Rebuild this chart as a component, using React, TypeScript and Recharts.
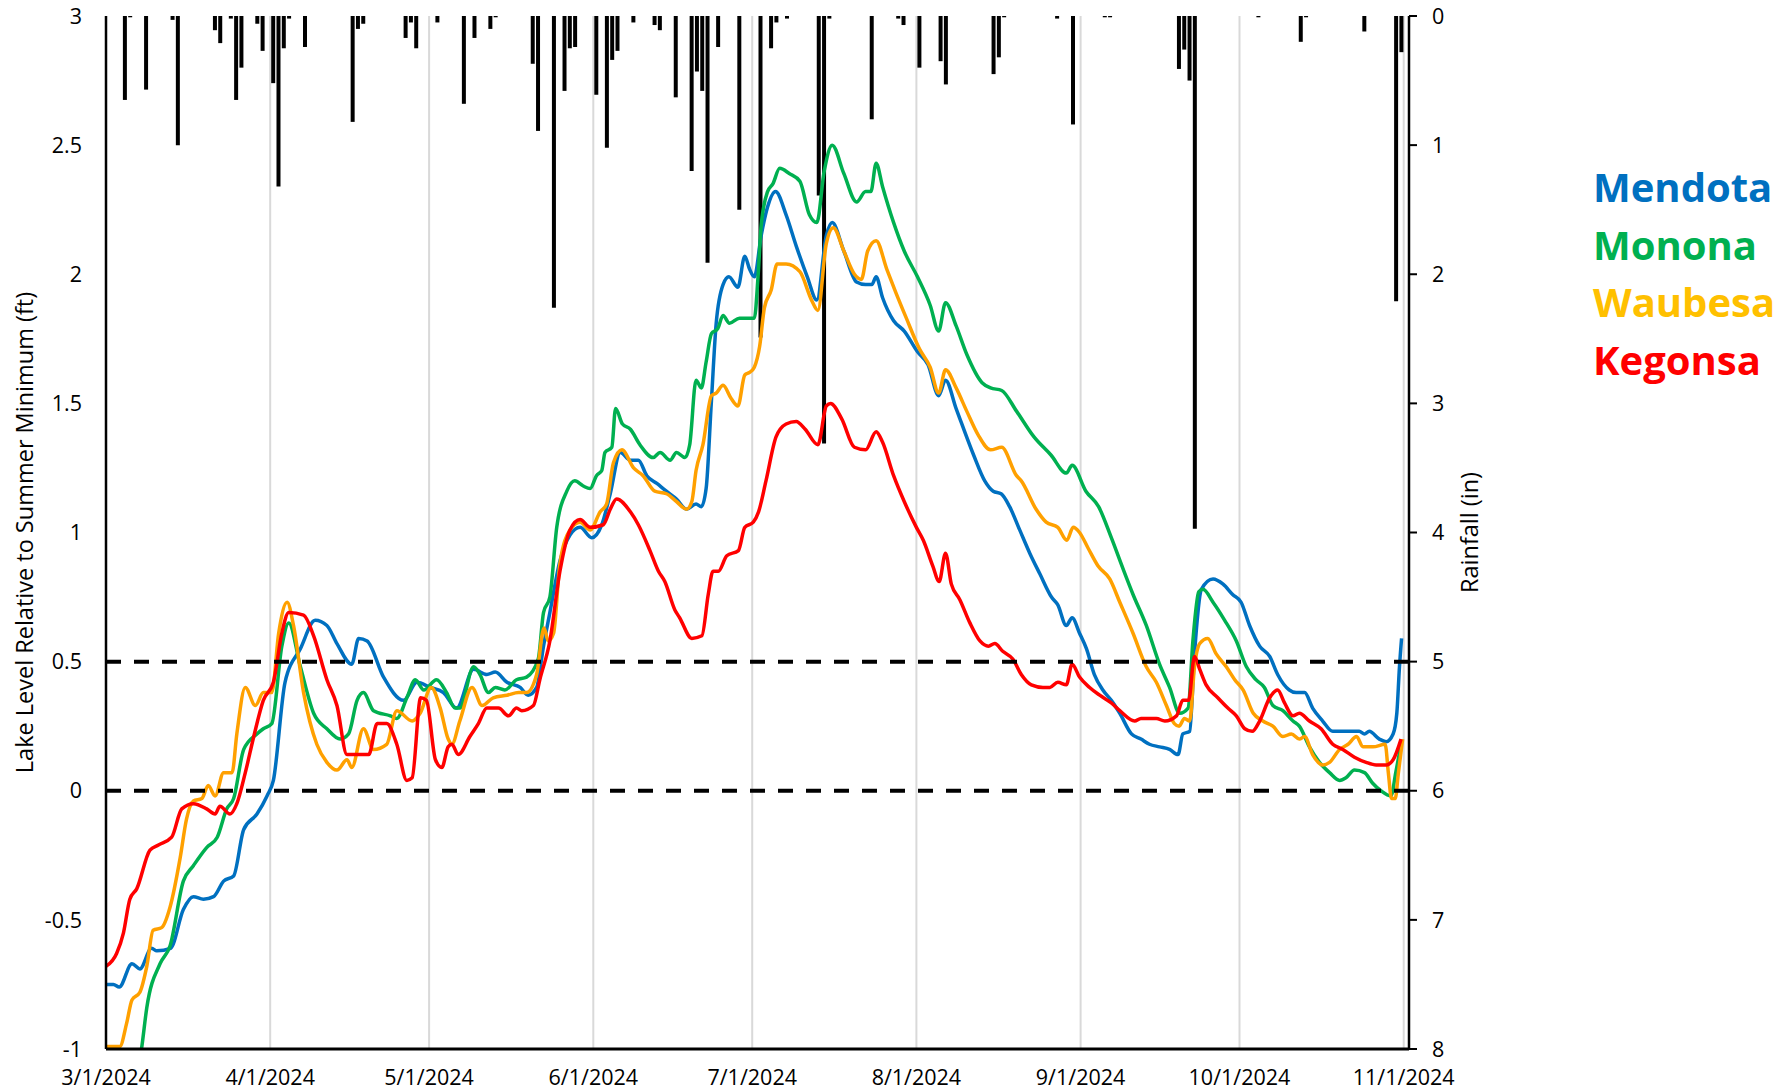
import {
  ComposedChart, Line, Bar, XAxis, YAxis, CartesianGrid, ReferenceLine,
} from 'recharts'

// x = days since 3/1/2024, y = ft relative to summer minimum
const mendota: [number, number][] = [
  [0, -0.75], [1.4, -0.75], [2.5, -0.76], [4.9, -0.67], [6.4, -0.69], [8.6, -0.61], [9.6, -0.62],
  [12.2, -0.61], [14.6, -0.46], [16.5, -0.41], [18.4, -0.42], [20.3, -0.41], [22.2, -0.35],
  [24.1, -0.33], [26, -0.15], [28.5, -0.09], [30.4, -0.02], [31.6, 0.04], [33.8, 0.42],
  [36.7, 0.55], [39.5, 0.66], [41.7, 0.64], [43.6, 0.57], [46.4, 0.49], [47.7, 0.59],
  [49.3, 0.58], [52.4, 0.44], [56.2, 0.35], [58.7, 0.42], [61.2, 0.4], [63.7, 0.38],
  [66.2, 0.32], [69.4, 0.47], [71.9, 0.45], [73.5, 0.46], [75.7, 0.42], [78.2, 0.4],
  [79.7, 0.37], [81.3, 0.4], [82.6, 0.56], [83.8, 0.69], [85.7, 0.89], [87.6, 0.99],
  [89.5, 1.02], [91.7, 0.98], [93.6, 1.03], [95.2, 1.15], [97.1, 1.31], [99, 1.28],
  [100.5, 1.28], [102.1, 1.22], [104, 1.19], [105.8, 1.16], [107.7, 1.13], [109.6, 1.09],
  [111.4, 1.11], [112.4, 1.1], [113.3, 1.17], [114.3, 1.51], [115.2, 1.81], [116.5, 1.96],
  [117.6, 1.99], [119.3, 1.95], [120.6, 2.07], [121.5, 2.02], [122.4, 1.99], [123.7, 2.15],
  [124.9, 2.26], [126.4, 2.32], [128.4, 2.23], [130.3, 2.11], [132.4, 1.99], [134.2, 1.9],
  [136, 2.15], [137.1, 2.2], [139.3, 2.09], [141.7, 1.97], [143.4, 1.96], [144.6, 1.96],
  [145.4, 1.99], [146.6, 1.91], [148.7, 1.82], [150.7, 1.78], [153.2, 1.7], [155.2, 1.65],
  [157.2, 1.53], [158.5, 1.59], [160.5, 1.48], [163.8, 1.3], [165.9, 1.2], [167.5, 1.16],
  [169, 1.15], [170.6, 1.1], [172.5, 1.01], [174.4, 0.92], [176.3, 0.84], [178.5, 0.75],
  [179.7, 0.72], [181.3, 0.64], [182.4, 0.67], [183.8, 0.61], [185.1, 0.55], [186.6, 0.45],
  [188.2, 0.39], [189.8, 0.35], [191.4, 0.3], [193.6, 0.22], [195.4, 0.2], [197, 0.18],
  [198.9, 0.17], [200.8, 0.16], [202.4, 0.14], [203.3, 0.22], [204.6, 0.23], [205.5, 0.53],
  [206.8, 0.78], [209, 0.82], [210.9, 0.8], [212.7, 0.76], [214.3, 0.73], [215.9, 0.64],
  [217.8, 0.56], [219.7, 0.52], [221.2, 0.45], [223.4, 0.39], [224.7, 0.38], [226.3, 0.38],
  [227.8, 0.32], [229.7, 0.27], [231.6, 0.23], [234.1, 0.23], [236.6, 0.23], [237.6, 0.22],
  [238.5, 0.23], [240.4, 0.2], [241.7, 0.19], [243, 0.22], [243.7, 0.3], [244.2, 0.48],
  [244.6, 0.59],
]

const monona: [number, number][] = [
  [0, -1.35], [3, -1.25], [6.7, -1], [7.7, -0.84], [10.2, -0.67], [12.1, -0.6], [14.6, -0.35],
  [16.5, -0.29], [19, -0.22], [21, -0.18], [22.8, -0.07], [24.1, -0.03], [26, 0.16],
  [28.5, 0.22], [29.7, 0.24], [31.3, 0.26], [33.2, 0.56], [34.5, 0.65], [36.7, 0.48],
  [39.2, 0.3], [41.7, 0.24], [44.2, 0.2], [45.8, 0.22], [47.4, 0.35], [48.6, 0.38],
  [50.5, 0.31], [53.7, 0.29], [54.9, 0.28], [56.8, 0.36], [58.4, 0.43], [60, 0.39],
  [62.4, 0.43], [64.3, 0.38], [65.9, 0.32], [66.8, 0.32], [69.4, 0.48], [70.6, 0.45],
  [72.2, 0.38], [73.5, 0.4], [75.3, 0.39], [77.5, 0.43], [79.4, 0.44], [81.6, 0.51],
  [82.6, 0.69], [83.8, 0.75], [85.1, 1.02], [87, 1.16], [88.5, 1.2], [90.1, 1.18],
  [91.4, 1.17], [92.6, 1.22], [93.6, 1.24], [94.2, 1.31], [95.5, 1.33], [96.2, 1.48],
  [97.5, 1.42], [99, 1.4], [100.8, 1.34], [103.3, 1.29], [104.6, 1.31], [106.5, 1.28],
  [107.7, 1.31], [109.3, 1.29], [110.2, 1.34], [111.4, 1.59], [112.4, 1.56], [113.3, 1.66],
  [114.3, 1.77], [115.5, 1.79], [116.5, 1.84], [117.7, 1.81], [119.6, 1.83], [122.4, 1.83],
  [123.1, 1.99], [123.7, 2.19], [124.9, 2.32], [125.9, 2.35], [127.2, 2.41], [129, 2.39],
  [131, 2.36], [132.8, 2.23], [134.2, 2.2], [135.6, 2.4], [137.1, 2.5], [139.3, 2.39],
  [141.7, 2.28], [143.4, 2.32], [144.4, 2.32], [145.4, 2.43], [146.6, 2.34], [148.7, 2.2],
  [150.7, 2.09], [153.2, 1.99], [155.6, 1.88], [157.2, 1.78], [158.5, 1.89], [160.5, 1.8],
  [162.5, 1.69], [165.4, 1.58], [167, 1.56], [169.1, 1.55], [171.9, 1.47], [175.2, 1.37],
  [178.4, 1.3], [181.3, 1.23], [182.4, 1.26], [185, 1.16], [187.4, 1.1], [189.8, 0.98],
  [192, 0.86], [193.9, 0.76], [196.4, 0.64], [198.9, 0.49], [200.8, 0.4], [202.7, 0.3],
  [204.3, 0.32], [205.2, 0.58], [206.3, 0.77], [207.1, 0.78], [209, 0.73], [211.2, 0.66],
  [213.4, 0.58], [215.3, 0.48], [217.1, 0.43], [218.7, 0.4], [220.3, 0.33], [222.2, 0.31],
  [224.1, 0.27], [225.3, 0.25], [227.2, 0.17], [229.1, 0.11], [231, 0.07], [232.9, 0.04],
  [234.1, 0.05], [235.7, 0.08], [237.6, 0.07], [239.1, 0.03], [240.7, 0], [242.6, -0.02],
  [243.5, 0.07], [244.5, 0.18],
]

const waubesa: [number, number][] = [
  [0, -0.99], [2.6, -0.99], [3.9, -0.9], [4.9, -0.81], [6.4, -0.78], [7.7, -0.68], [8.9, -0.54],
  [10.5, -0.53], [12.1, -0.45], [14, -0.26], [15.2, -0.11], [16.5, -0.04], [18.1, -0.03],
  [19.3, 0.02], [20.6, -0.02], [22.2, 0.07], [23.8, 0.07], [24.7, 0.22], [26.3, 0.4],
  [28.2, 0.33], [29.7, 0.38], [31.3, 0.38], [32.6, 0.61], [34.2, 0.73], [35.4, 0.64],
  [37.3, 0.38], [39.8, 0.18], [41.7, 0.11], [43.6, 0.08], [45.5, 0.12], [46.4, 0.09],
  [48.6, 0.24], [50.5, 0.16], [53, 0.18], [54.9, 0.31], [57.8, 0.27], [59.3, 0.3],
  [61.4, 0.4], [63.1, 0.32], [64.6, 0.2], [65.3, 0.18], [66.8, 0.27], [69.1, 0.4],
  [71, 0.33], [73.1, 0.36], [75.7, 0.37], [77.9, 0.38], [79.4, 0.38], [81.3, 0.45],
  [82.7, 0.63], [83.5, 0.58], [84.5, 0.61], [85.7, 0.88], [87.6, 1.01], [89.5, 1.04],
  [91.4, 1.01], [93.3, 1.08], [94.5, 1.11], [95.8, 1.27], [97.4, 1.32], [99.6, 1.25],
  [101.4, 1.22], [103.6, 1.16], [105.8, 1.15], [107.7, 1.12], [109.6, 1.09], [110.6, 1.12],
  [111.4, 1.24], [112.7, 1.34], [114.3, 1.53], [115.2, 1.54], [116.5, 1.57], [118, 1.52],
  [119.3, 1.49], [120.6, 1.61], [121.5, 1.62], [122.4, 1.64], [123.4, 1.72], [124.3, 1.87],
  [125.6, 1.94], [126.7, 2.04], [128.4, 2.04], [131, 2.01], [133.2, 1.9], [134.4, 1.86],
  [136, 2.12], [137.3, 2.18], [139.3, 2.09], [141.3, 2], [142.6, 1.98], [143.8, 2.09],
  [145.4, 2.13], [147.4, 2.02], [149.1, 1.93], [151.1, 1.83], [153.6, 1.71], [155.6, 1.64],
  [157.2, 1.54], [158.5, 1.63], [160.5, 1.56], [162.5, 1.47], [164.6, 1.38], [167, 1.32],
  [169.1, 1.33], [171.9, 1.22], [172.8, 1.2], [175.6, 1.09], [177.5, 1.04], [179.7, 1.02],
  [181.4, 0.97], [182.6, 1.02], [183.8, 1], [185.4, 0.94], [187.3, 0.87], [189.5, 0.82],
  [191.4, 0.73], [193.9, 0.61], [196.4, 0.48], [198.3, 0.42], [200.2, 0.33], [201.7, 0.26],
  [202.6, 0.25], [203.6, 0.28], [204.6, 0.27], [205.5, 0.48], [206.5, 0.57], [208, 0.59],
  [209.6, 0.53], [211.5, 0.48], [213.1, 0.43], [214.7, 0.39], [216.6, 0.3], [218.4, 0.27],
  [220.3, 0.25], [222.2, 0.21], [223.8, 0.22], [225.3, 0.2], [226.3, 0.21], [227.8, 0.14],
  [229.7, 0.1], [231, 0.11], [232.9, 0.16], [234.5, 0.18], [236.1, 0.21], [237.3, 0.17],
  [239.2, 0.17], [241.5, 0.18], [242.1, 0.07], [242.7, -0.03], [243.4, -0.03], [244, 0.07],
  [244.8, 0.2],
]

const kegonsa: [number, number][] = [
  [0, -0.68], [2, -0.63], [3.3, -0.55], [4.5, -0.42], [5.8, -0.38], [8.3, -0.23], [9.9, -0.21],
  [12.4, -0.18], [14.3, -0.07], [16.5, -0.05], [19, -0.07], [20.6, -0.09], [21.5, -0.06],
  [23.4, -0.09], [24.7, -0.05], [26.3, 0.07], [27.9, 0.21], [29.7, 0.35], [31.6, 0.42],
  [33.2, 0.61], [34.5, 0.69], [37.3, 0.68], [39.2, 0.6], [41.7, 0.43], [43.6, 0.33],
  [45.5, 0.14], [47.4, 0.14], [49.6, 0.14], [51.2, 0.26], [53, 0.26], [54.9, 0.18],
  [56.8, 0.04], [57.8, 0.05], [59.4, 0.36], [60.5, 0.35], [62.2, 0.12], [63.4, 0.09],
  [64.6, 0.17], [65.3, 0.18], [66.5, 0.14], [68.7, 0.21], [70.3, 0.26], [71.9, 0.32],
  [74.1, 0.32], [76, 0.29], [77.5, 0.32], [78.5, 0.31], [80.7, 0.33], [81.9, 0.43],
  [83.8, 0.58], [85.7, 0.85], [87.6, 1.01], [89.5, 1.05], [91.4, 1.02], [93.9, 1.03],
  [95.2, 1.09], [96.4, 1.13], [99, 1.08], [100.5, 1.03], [102.7, 0.93], [104.3, 0.85],
  [105.5, 0.81], [107.4, 0.7], [108.3, 0.67], [110.6, 0.59], [112.5, 0.6], [113.7, 0.76],
  [114.6, 0.85], [115.6, 0.85], [117.2, 0.91], [119.4, 0.93], [120.6, 1.02], [122.2, 1.04],
  [123.2, 1.08], [124.6, 1.2], [126.5, 1.37], [128.4, 1.42], [130.3, 1.43], [132, 1.4],
  [134.4, 1.34], [136, 1.49], [136.8, 1.5], [138.9, 1.44], [141.3, 1.33], [143.4, 1.32],
  [145.4, 1.39], [146.6, 1.35], [148.7, 1.22], [150.7, 1.12], [153, 1.02], [154.3, 0.97],
  [156.1, 0.87], [157.3, 0.81], [158.5, 0.92], [159.6, 0.8], [161.2, 0.74], [163.1, 0.65],
  [165, 0.58], [166.6, 0.56], [167.8, 0.57], [169.3, 0.54], [171.2, 0.51], [172.8, 0.45],
  [174.7, 0.41], [176.9, 0.4], [178.2, 0.4], [179.7, 0.42], [181.3, 0.41], [182.4, 0.49],
  [183.8, 0.44], [185.7, 0.4], [187.6, 0.37], [189.8, 0.34], [191.4, 0.31], [194.2, 0.27],
  [195.4, 0.28], [198.3, 0.28], [199.9, 0.27], [202.1, 0.29], [203.3, 0.35], [204.4, 0.35],
  [205.5, 0.52], [206.5, 0.47], [207.7, 0.41], [209.9, 0.36], [211.8, 0.32], [213.4, 0.29],
  [215, 0.24], [216.4, 0.23], [217.8, 0.27], [219.7, 0.36], [221.2, 0.39], [222.5, 0.34],
  [224.1, 0.29], [225.3, 0.3], [227.2, 0.27], [229.4, 0.24], [231.6, 0.18], [233.5, 0.16],
  [235.7, 0.13], [237.9, 0.11], [239.8, 0.1], [241.7, 0.1], [243, 0.12], [244.5, 0.2],
]

// daily rainfall (in), day index since 3/1/2024
const rainDays = [
  3, 4, 7, 12, 13, 20, 21, 23, 24, 25, 28, 29, 31, 32, 33, 34, 37, 46, 47, 48, 56, 57, 58, 62,
  67, 69, 72, 73, 80, 81, 84, 86, 87, 88, 92, 94, 95, 96, 99, 103, 104, 107, 110, 111, 112,
  113, 115, 119, 123, 125, 126, 128, 134, 135, 136, 144, 149, 150, 153, 157, 158, 167, 168,
  169, 179, 182, 188, 189, 202, 203, 204, 205, 217, 225, 226, 237, 243, 244,
]
const rainInches = [
  0.65, 0.01, 0.57, 0.03, 1.0, 0.11, 0.21, 0.02, 0.65, 0.4, 0.06, 0.27, 0.52, 1.32, 0.25, 0.02,
  0.24, 0.82, 0.1, 0.06, 0.17, 0.05, 0.25, 0.05, 0.68, 0.17, 0.1, 0.01, 0.37, 0.89, 2.26, 0.58,
  0.25, 0.24, 0.61, 1.02, 0.34, 0.27, 0.05, 0.07, 0.11, 0.63, 1.2, 0.43, 0.58, 1.91, 0.24, 1.5,
  2.49, 0.25, 0.05, 0.02, 1.39, 3.31, 0.02, 0.8, 0.02, 0.07, 0.4, 0.35, 0.53, 0.45, 0.32, 0.01,
  0.02, 0.84, 0.01, 0.01, 0.41, 0.26, 0.5, 3.97, 0.01, 0.2, 0.01, 0.12, 2.21, 0.28,
]

const monthTicks = [0, 31, 61, 92, 122, 153, 184, 214, 245]
const monthLabels = [
  '3/1/2024', '4/1/2024', '5/1/2024', '6/1/2024', '7/1/2024',
  '8/1/2024', '9/1/2024', '10/1/2024', '11/1/2024',
]
const levelTicks = [-1, -0.5, 0, 0.5, 1, 1.5, 2, 2.5, 3]
const rainTicks = [0, 1, 2, 3, 4, 5, 6, 7, 8]

const lakes = [
  { name: 'Mendota', points: mendota, line: '#0070C0', text: '#0070C0' },
  { name: 'Monona', points: monona, line: '#00B050', text: '#00B050' },
  { name: 'Waubesa', points: waubesa, line: '#FFA000', text: '#FFC000' },
  { name: 'Kegonsa', points: kegonsa, line: '#FF0000', text: '#FF0000' },
]

const FONT = '"Open Sans", "Liberation Sans", sans-serif'
const tickStyle = { fontSize: 21.5, fill: '#000', fontFamily: FONT }
const axisLabelStyle = { textAnchor: 'middle', fontSize: 23.5, fill: '#000', fontFamily: FONT }

export default function App() {
  const rainRows = rainDays.map((d, i) => ({ day: d, rain: rainInches[i] }))

  return (
    <div style={{ position: 'absolute', left: 0, top: 0, width: 1790, height: 1092, background: '#fff', fontFamily: FONT }}>
      <ComposedChart
        width={1790}
        height={1092}
        data={rainRows}
        margin={{ top: 16, right: 281, bottom: 0, left: 0 }}
      >
        <CartesianGrid horizontal={false} stroke="#d9d9d9" strokeWidth={2} xAxisId="date" yAxisId="ft" />
        <XAxis
          xAxisId="date"
          type="number"
          dataKey="day"
          domain={[0, 246]}
          ticks={monthTicks}
          tickFormatter={(v: number) => monthLabels[monthTicks.indexOf(v)]}
          allowDataOverflow
          height={43}
          tick={tickStyle}
          tickLine={false}
          tickSize={0}
          tickMargin={21}
          axisLine={{ stroke: '#000', strokeWidth: 3 }}
          interval={0}
        />
        <XAxis
          xAxisId="rainX"
          type="number"
          dataKey="day"
          domain={[-0.5, 245.5]}
          orientation="top"
          height={0}
          tick={false}
          tickLine={false}
          axisLine={{ stroke: '#000', strokeWidth: 2 }}
        />
        <YAxis
          yAxisId="ft"
          domain={[-1, 3]}
          ticks={levelTicks}
          allowDataOverflow
          width={106}
          tick={tickStyle}
          tickLine={false}
          tickSize={0}
          tickMargin={24}
          interval={0}
          axisLine={{ stroke: '#000', strokeWidth: 2.5 }}
          label={{
            value: 'Lake Level Relative to Summer Minimum (ft)',
            angle: -90,
            position: 'insideLeft',
            offset: 25,
            style: axisLabelStyle,
          }}
        />
        <YAxis
          yAxisId="rain"
          orientation="right"
          reversed
          domain={[0, 8]}
          ticks={rainTicks}
          width={100}
          tick={tickStyle}
          tickSize={8}
          tickMargin={15}
          interval={0}
          tickLine={{ stroke: '#000', strokeWidth: 2 }}
          axisLine={{ stroke: '#000', strokeWidth: 2.5 }}
          label={{
            value: 'Rainfall (in)',
            angle: -90,
            position: 'insideRight',
            offset: 39,
            style: axisLabelStyle,
          }}
        />

        {lakes.map(l => (
          <Line
            key={l.name}
            xAxisId="date"
            yAxisId="ft"
            data={l.points.map(([day, ft]) => ({ day, ft }))}
            dataKey="ft"
            type="monotone"
            stroke={l.line}
            strokeWidth={3.5}
            dot={false}
            isAnimationActive={false}
          />
        ))}

        <ReferenceLine xAxisId="date" yAxisId="ft" y={0.5} stroke="#000" strokeWidth={4} strokeDasharray="15 13" />
        <ReferenceLine xAxisId="date" yAxisId="ft" y={0} stroke="#000" strokeWidth={4} strokeDasharray="15 13" />

        <Bar xAxisId="rainX" yAxisId="rain" dataKey="rain" fill="#000" barSize={4} isAnimationActive={false} />
      </ComposedChart>

      <svg width={1790} height={1092} style={{ position: 'absolute', left: 0, top: 0, pointerEvents: 'none' }}>
        {lakes.map((l, i) => (
          <text
            key={l.name}
            x={1593}
            y={202 + i * 57.7}
            fill={l.text}
            fontSize={40}
            fontWeight={700}
            fontFamily={FONT}
          >
            {l.name}
          </text>
        ))}
      </svg>
    </div>
  )
}
